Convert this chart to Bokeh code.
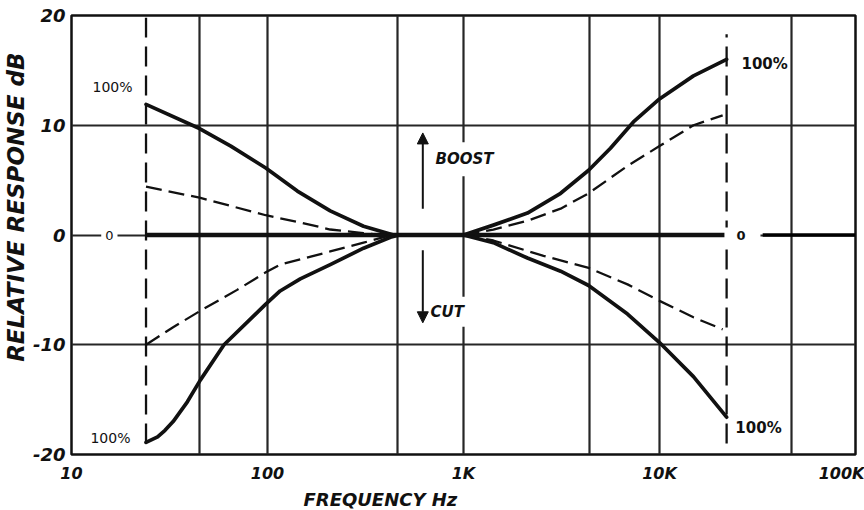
from bokeh.plotting import figure
from bokeh.models import FixedTicker, Label, Arrow, NormalHead, Range1d, Title
from bokeh.embed import file_html
from bokeh.resources import INLINE

# ---------------- data ----------------
bass_boost_full_f = [24, 45, 65, 98, 142, 209, 309, 440, 500]
bass_boost_full_db = [11.9, 9.7, 8.1, 6.1, 4.0, 2.2, 0.8, 0.0, 0.0]

bass_boost_half_f = [24, 45, 98, 150, 209, 300, 378, 460]
bass_boost_half_db = [4.4, 3.4, 1.8, 1.1, 0.5, 0.2, 0.0, 0.0]

bass_cut_full_f = [24, 27.5, 30, 33, 39, 45.5, 60, 98, 116, 147, 209, 309, 424, 470]
bass_cut_full_db = [-18.9, -18.4, -17.8, -17.0, -15.2, -13.2, -10.0, -6.3, -5.1, -4.0, -2.7, -1.2, -0.2, 0.0]

bass_cut_half_f = [24, 33, 45.5, 70, 98, 116, 209, 309, 430]
bass_cut_half_db = [-10.0, -8.4, -6.9, -5.0, -3.4, -2.7, -1.5, -0.7, 0.0]

treble_boost_full_f = [1000, 1420, 2120, 3130, 4350, 5620, 7360, 10000, 14900, 22000]
treble_boost_full_db = [0.0, 0.9, 2.0, 3.8, 5.9, 7.9, 10.3, 12.4, 14.5, 16.0]

treble_boost_half_f = [1000, 1420, 2120, 3130, 4350, 6870, 10000, 14900, 21000]
treble_boost_half_db = [0.0, 0.5, 1.3, 2.4, 3.8, 6.3, 8.1, 10.0, 10.9]

treble_cut_full_f = [1000, 1420, 2120, 3130, 4350, 6870, 10000, 14900, 22000]
treble_cut_full_db = [0.0, -0.7, -2.1, -3.3, -4.6, -7.2, -9.8, -12.9, -16.6]

treble_cut_half_f = [1000, 1420, 2560, 4350, 6870, 10000, 14900, 21000]
treble_cut_half_db = [0.0, -0.5, -1.9, -3.0, -4.5, -6.0, -7.5, -8.6]

flat_f = [24, 22000]
flat_db = [0, 0]

limit_f = [24, 22000]
limit_top_db = [19.8, 18.3]
limit_bottom_db = [-19.0, -19.0]

x_ticks = [10, 100, 1000, 10000, 100000]
x_tick_labels = ["10", "100", "1K", "10K", "100K"]
x_grid = [45, 100, 460, 1000, 4400, 10000, 47000]
y_ticks = [-20, -10, 0, 10, 20]
y_tick_labels = ["-20", "-10", "0", "10", "20"]

# ---------------- styling ----------------
FONT = "DejaVu Sans"
INK = "#111111"
GRID = "#262626"

p = figure(width=864, height=510, x_axis_type="log",
           x_range=Range1d(10, 100000), y_range=Range1d(-20, 20),
           output_backend="svg", toolbar_location=None,
           min_border_left=71, min_border_right=9,
           min_border_top=15, min_border_bottom=53)

p.background_fill_color = "white"
p.border_fill_color = "white"
p.outline_line_color = INK
p.outline_line_width = 2.5

p.xgrid.ticker = FixedTicker(ticks=x_grid)
p.ygrid.ticker = FixedTicker(ticks=[-10, 0, 10])
for g in (p.xgrid, p.ygrid):
    g.grid_line_color = GRID
    g.grid_line_width = 2.2

xa = p.xaxis[0]
xa.ticker = FixedTicker(ticks=x_ticks)
xa.major_label_overrides = {t: s for t, s in zip(x_ticks, x_tick_labels)}
ya = p.yaxis[0]
ya.ticker = FixedTicker(ticks=y_ticks)
ya.major_label_overrides = {t: s for t, s in zip(y_ticks, y_tick_labels)}
for ax in (xa, ya):
    ax.axis_line_color = None
    ax.major_tick_line_color = None
    ax.minor_tick_line_color = None
    ax.major_tick_out = 0
    ax.major_tick_in = 0
    ax.minor_tick_out = 0
    ax.minor_tick_in = 0
    ax.major_label_text_font = FONT
    ax.major_label_text_font_style = "bold italic"
    ax.major_label_text_color = INK
xa.major_label_standoff = 9
xa.major_label_text_font_size = "16px"
ya.major_label_standoff = 6
ya.major_label_text_font_size = "18px"

# axis titles (placed as side titles so they can sit off-centre like the original)
p.add_layout(Title(text="FREQUENCY  Hz", align="left", offset=232, standoff=2,
                   text_font=FONT, text_font_style="bold italic",
                   text_font_size="18px", text_color=INK), "below")
p.add_layout(Title(text="RELATIVE RESPONSE dB", align="right", offset=37, standoff=1,
                   text_font=FONT, text_font_style="bold italic",
                   text_font_size="23px", text_color=INK), "left")

# limit (dashed) verticals
for f, top, bot in zip(limit_f, limit_top_db, limit_bottom_db):
    p.line([f, f], [bot, top], line_color=INK, line_width=2.3, line_dash="20 9")

# flat response
p.line(flat_f, flat_db, line_color=INK, line_width=4.5)
p.line([33600, 100000], [0, 0], line_color="black", line_width=3.5)

# curves
solid = dict(line_color=INK, line_width=3.7, line_join="round", line_cap="round")
dashed = dict(line_color=INK, line_width=2.3, line_dash="16 7", line_join="round")
p.line(bass_boost_full_f, bass_boost_full_db, **solid)
p.line(bass_cut_full_f, bass_cut_full_db, **solid)
p.line(treble_boost_full_f, treble_boost_full_db, **solid)
p.line(treble_cut_full_f, treble_cut_full_db, **solid)
p.line(bass_boost_half_f, bass_boost_half_db, **dashed)
p.line(bass_cut_half_f, bass_cut_half_db, **dashed)
p.line(treble_boost_half_f, treble_boost_half_db, **dashed)
p.line(treble_cut_half_f, treble_cut_half_db, **dashed)

# annotations
def lab(x, y, text, size="14px", style="normal", align="center", **kw):
    p.add_layout(Label(x=x, y=y, text=text, text_align=align, text_baseline="middle",
                       text_font=FONT, text_font_style=style, text_font_size=size,
                       text_color=INK, **kw))

lab(16.2, 13.5, "100%", "14px")
lab(15.8, -18.5, "100%", "14px")
lab(34400, 15.6, "100%", "15px", "bold")
lab(32000, -17.6, "100%", "15px", "bold")
lab(15.6, 0, "0", "13px", background_fill_color="white",
    padding=dict(left=4, right=4, top=2, bottom=2))
lab(26500, 0, "0", "13px", "bold", background_fill_color="white",
    padding=dict(left=12, right=15, top=3, bottom=3))
lab(695, 6.9, "BOOST", "15px", "bold italic", align="left",
    background_fill_color="white", padding=dict(left=3, right=3, top=8, bottom=8))
lab(655, -7.0, "CUT", "15px", "bold italic", align="left",
    background_fill_color="white", padding=dict(left=3, right=3, top=6, bottom=6))

p.add_layout(Arrow(x_start=620, y_start=2.4, x_end=620, y_end=9.3,
                   line_color=INK, line_width=2,
                   end=NormalHead(size=11, fill_color=INK, line_color=INK)))
p.add_layout(Arrow(x_start=620, y_start=-1.4, x_end=620, y_end=-8.0,
                   line_color=INK, line_width=2,
                   end=NormalHead(size=11, fill_color=INK, line_color=INK)))

open("out.html", "w").write(file_html(p, INLINE))
